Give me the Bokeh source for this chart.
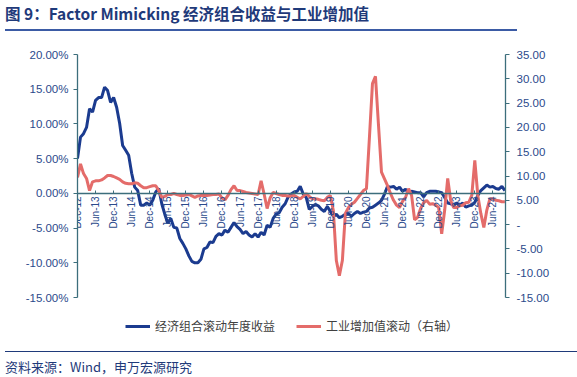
import math
from bokeh.plotting import figure
from bokeh.models import (LinearAxis, Range1d, FixedTicker, Legend, LegendItem,
                          Div, CustomJSTickFormatter)
from bokeh.layouts import column
from bokeh.embed import file_html
from bokeh.resources import INLINE

# ---- data (monthly, Dec-2012 .. Oct-2024) ----
tick_labels = ["Dec-12", "Jun-13", "Dec-13", "Jun-14", "Dec-14", "Jun-15", "Dec-15", "Jun-16",
               "Dec-16", "Jun-17", "Dec-17", "Jun-18", "Dec-18", "Jun-19", "Dec-19", "Jun-20",
               "Dec-20", "Jun-21", "Dec-21", "Jun-22", "Dec-22", "Jun-23", "Dec-23", "Jun-24"]

portfolio_return = [  # % , left axis
    5.0, 8.1, 8.6, 9.5, 12.2, 11.7, 13.4, 13.8, 13.8, 15.3,
    14.8, 13.1, 13.8, 12.4, 10.1, 6.9, 6.2, 5.5, 2.9, 0.9,
    0.4, -1.7, -1.7, -1.4, -1.7, -1.0, 0.2, 0.7, -1.5, -3.0,
    -4.3, -3.6, -4.9, -5.0, -6.5, -7.2, -8.0, -9.0, -9.8, -10.0,
    -10.0, -9.5, -8.0, -7.8, -7.0, -7.1, -6.2, -5.8, -6.0, -5.3,
    -5.6, -4.9, -4.2, -4.8, -5.2, -5.8, -5.5, -6.0, -6.3, -5.8,
    -6.3, -5.6, -6.0, -4.6, -4.9, -3.6, -3.0, -2.8, -2.0, -1.5,
    -0.5, -0.1, 0.2, 0.3, 1.0, -0.1, -0.6, -2.3, -1.9, -1.6,
    -1.8, -2.3, -2.6, -1.9, -2.6, -3.3, -3.0, -3.5, -3.3, -3.0,
    -2.9, -3.3, -2.9, -2.6, -2.9, -2.7, -2.6, -2.1, -2.0, -1.7,
    -1.4, -1.0, -0.1, 1.0, 0.9, 1.0, 0.6, 0.9, 0.3, 0.6,
    0.1, 0.3, 0.2, 0.1, 0.1, -0.5, 0.1, 0.3, 0.3, 0.3,
    0.2, 0.1, -0.6, -1.4, -1.5, -1.7, -1.4, -1.7, -1.4, -2.0,
    -1.8, -1.7, -1.3, -0.3, 0.4, 0.8, 1.2, 0.9, 1.0, 0.7,
    0.6, 1.0, 0.4]

industrial_value_added = [  # right axis
    9.7, 12.5, 10.5, 9.5, 7.0, 8.8, 9.0, 9.0, 9.2, 9.6,
    10.1, 10.1, 9.9, 9.6, 9.3, 8.8, 8.5, 8.4, 8.4, 8.6,
    8.5, 8.0, 7.6, 7.6, 7.8, 8.0, 8.0, 7.0, 5.6, 5.8,
    6.2, 6.2, 6.4, 6.2, 6.0, 6.0, 6.1, 6.2, 5.9, 5.6,
    5.9, 6.0, 6.0, 6.0, 6.1, 6.2, 6.2, 6.3, 5.5, 5.1,
    6.0, 7.2, 8.0, 7.0, 7.0, 6.8, 6.6, 6.5, 6.4, 6.3,
    6.2, 9.0, 6.3, 3.3, 5.5, 6.6, 6.4, 6.2, 6.0, 6.0,
    5.9, 5.9, 6.0, 5.6, 5.3, 5.8, 6.4, 5.8, 5.3, 5.3,
    5.2, 5.0, 4.9, 5.6, 6.0, 2.9, -7.4, -10.5, -7.4, 2.3,
    3.5, 4.2, 4.6, 5.4, 6.2, 7.0, 7.4, 18.0, 29.0, 30.5,
    20.5, 10.8, 9.4, 8.0, 6.4, 5.0, 4.0, 3.5, 4.8, 5.6,
    7.4, 6.0, 1.0, 1.5, 3.3, 4.5, 5.0, 4.2, 4.3, 4.0,
    3.5, -1.9, 3.0, 9.5, 4.9, 3.5, 3.5, 3.9, 4.0, 4.5,
    4.6, 6.0, 13.2, 6.0, 2.3, -0.6, 3.0, 5.3, 5.3, 5.0,
    4.9, 4.7, 4.7]

series_names = ["经济组合滚动年度收益", "工业增加值滚动（右轴）"]

x = list(range(len(portfolio_return)))
tick_pos = [i * 6 for i in range(len(tick_labels))]

NAVY = "#1F3A7A"
LABEL_BLUE = "#2B4A8B"
AXIS_COL = "#3C6E7C"
BLUE_LINE = "#1B3B8F"
RED_LINE = "#E46C6A"
CJK = "Noto Sans CJK SC"

W = 577

title = Div(text="图 9：Factor Mimicking 经济组合收益与工业增加值",
            width=512, height=31, margin=(0, 0, 0, 5),
            styles={"font-family": CJK, "font-size": "15.5px", "font-weight": "bold",
                    "color": NAVY, "border-bottom": "2px solid #3B5BA5",
                    "padding-top": "4px",
                    "line-height": "18px", "box-sizing": "border-box"})

p = figure(width=W, height=274, output_backend="svg", toolbar_location=None,
           x_axis_location=None, y_axis_location=None,
           x_range=Range1d(0, 142.2), y_range=Range1d(-15, 20),
           min_border_left=77, min_border_right=72, min_border_top=23, min_border_bottom=8,
           outline_line_color=None, background_fill_color="white", border_fill_color="white")
p.grid.visible = False
p.extra_y_ranges = {"right": Range1d(-15, 35)}

def style_axis(ax):
    ax.axis_line_color = AXIS_COL
    ax.axis_line_width = 1.3
    ax.major_tick_line_color = AXIS_COL
    ax.minor_tick_line_color = None
    ax.major_label_text_color = LABEL_BLUE
    ax.major_label_text_font = "Liberation Sans"

left = LinearAxis(ticker=FixedTicker(ticks=list(range(-15, 21, 5))))
left.formatter = CustomJSTickFormatter(code="return tick.toFixed(2) + '%';")
style_axis(left)
left.major_label_text_font_size = "11.5px"
left.major_tick_out = 4
left.major_tick_in = 0
left.major_label_standoff = 5
p.add_layout(left, "left")

right = LinearAxis(y_range_name="right", ticker=FixedTicker(ticks=list(range(-15, 36, 5))))
right.formatter = CustomJSTickFormatter(code="return tick === 0 ? '-' : tick.toFixed(2);")
style_axis(right)
right.major_label_text_font_size = "11.5px"
right.major_tick_out = 4
right.major_tick_in = 0
right.major_label_standoff = 7
p.add_layout(right, "right")

xax = LinearAxis(ticker=FixedTicker(ticks=tick_pos), fixed_location=0)
xax.major_label_overrides = {pos: lab for pos, lab in zip(tick_pos, tick_labels)}
style_axis(xax)
xax.major_label_text_font_size = "10px"
xax.major_label_orientation = math.pi / 2
xax.major_tick_in = 3
xax.major_tick_out = 0
xax.major_label_standoff = 3
p.add_layout(xax, "below")

r1 = p.line(x, portfolio_return, line_color=BLUE_LINE, line_width=3)
r2 = p.line(x, industrial_value_added, line_color=RED_LINE, line_width=3, y_range_name="right")

# legend strip below the chart (its frame is aligned with the chart frame)
lg = figure(width=W, height=46, output_backend="svg", toolbar_location=None,
            x_axis_location=None, y_axis_location=None,
            x_range=Range1d(0, 1), y_range=Range1d(0, 1),
            min_border_left=0, min_border_right=0, min_border_top=0, min_border_bottom=0,
            outline_line_color=None, background_fill_color="white", border_fill_color="white")
lg.grid.visible = False
nan = float("nan")
g1 = lg.line([nan], [nan], line_color=BLUE_LINE, line_width=3)
g2 = lg.line([nan], [nan], line_color=RED_LINE, line_width=3)
legend = Legend(items=[LegendItem(label=series_names[0], renderers=[g1]),
                       LegendItem(label=series_names[1], renderers=[g2])],
                orientation="horizontal", location=(48, 17),
                label_text_font=CJK, label_text_font_size="12px", label_text_color="#404040",
                glyph_width=25, glyph_height=12, spacing=21, label_standoff=5,
                padding=5, margin=0,
                border_line_color=None, background_fill_alpha=0)
lg.add_layout(legend, "center")

footer = Div(text="资料来源：Wind，申万宏源研究", width=572, height=26, margin=(0, 0, 0, 5),
             styles={"font-family": CJK, "font-size": "13px", "color": NAVY,
                     "border-top": "1.5px solid #1F3A7A", "padding-top": "6px",
                     "line-height": "18px", "box-sizing": "border-box"})

layout = column(title, p, lg, footer, spacing=0)

open("out.html", "w").write(file_html(layout, INLINE))
